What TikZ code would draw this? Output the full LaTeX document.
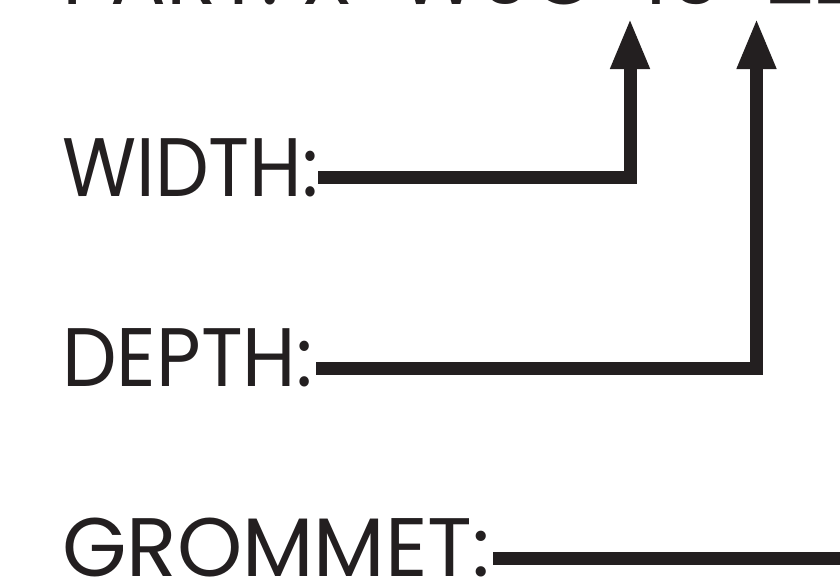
\documentclass[tikz,border=0pt]{standalone}
\usepackage{fontspec}
\usepackage{graphicx}
\setmainfont{Poppins}
\usetikzlibrary{arrows.meta}
\definecolor{ink}{HTML}{231F20}
\tikzset{
  lbl/.style={anchor=base west, inner sep=0pt, text=ink, font=\fontsize{83}{90}\selectfont},
  lead/.style={draw=ink, line width=13pt, miter limit=10, line join=miter},
  leadarrow/.style={lead, -{Triangle[width=36pt,length=51pt]}},
}
\begin{document}
\begin{tikzpicture}[x=1pt,y=1pt]
\useasboundingbox (0,0) rectangle (840,-586);
\clip (0,0) rectangle (840,-586);
\fill[white] (0,0) rectangle (840,-586);
\node[lbl] (part) at (62,-5) {PART: X-W0C-16-22};
\node[lbl] (width) at (62,-196) {\scalebox{0.915}[1]{WIDTH:}};
\node[lbl] (depth) at (62,-386) {\scalebox{0.93}[1]{DEPTH:}};
\node[lbl] (grommet) at (62,-576) {GROMMET:};
\coordinate (wA) at (318,-177.5);
\coordinate (wT) at (630,-18);
\coordinate (dA) at (316,-368);
\coordinate (dT) at (756.5,-18);
\coordinate (gA) at (493,-558.5);
\coordinate (gE) at (845,-558.5);
\draw[leadarrow] (wA) -| (wT);
\draw[leadarrow] (dA) -| (dT);
\draw[lead] (gA) -- (gE);
\end{tikzpicture}
\end{document}
